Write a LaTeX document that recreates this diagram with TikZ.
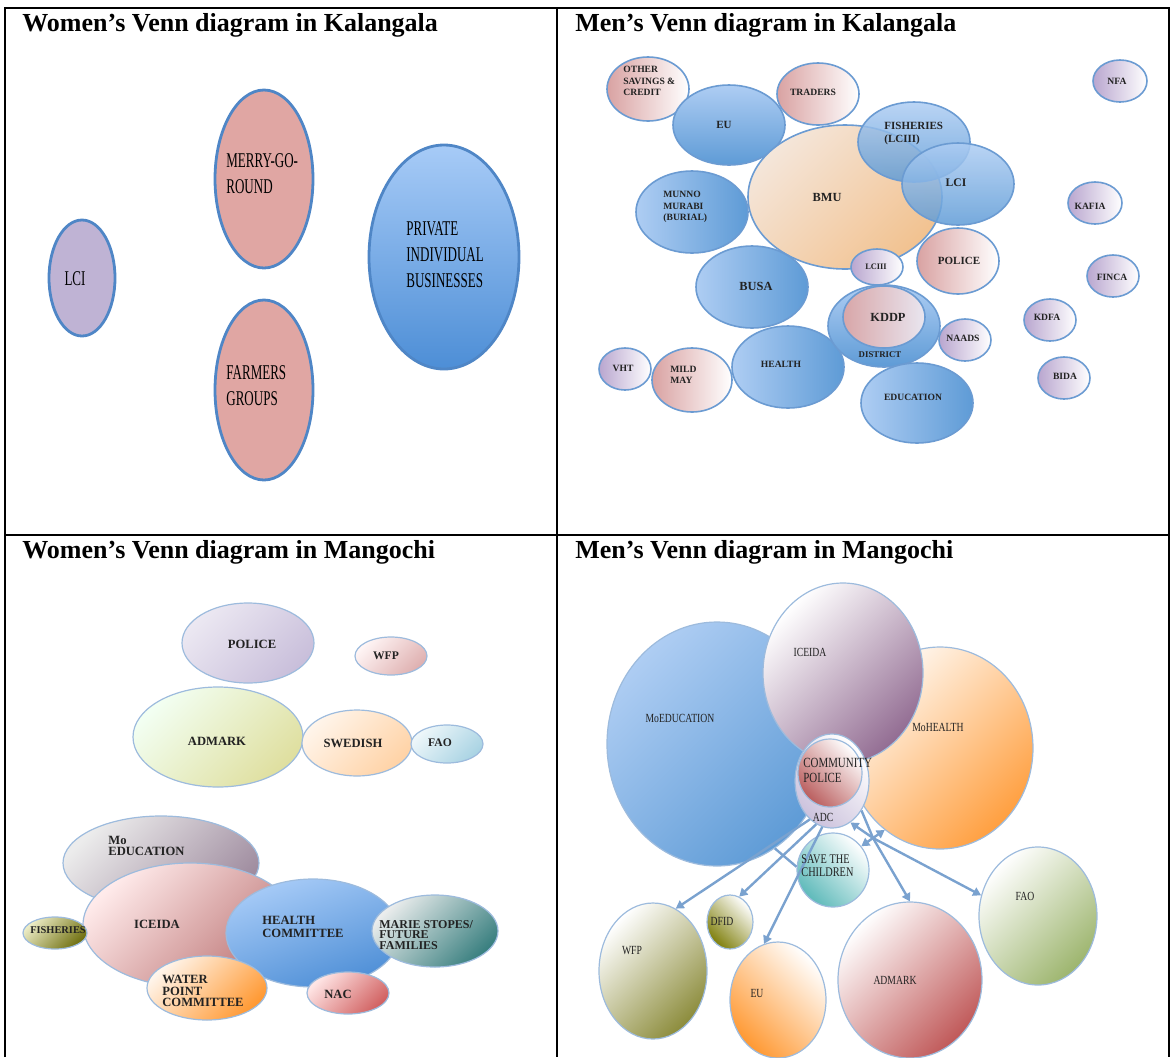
\documentclass[tikz,border=0pt]{standalone}
\usepackage{fontspec}
\setmainfont{Liberation Serif}
\newfontfamily\narrowfont{Liberation Serif}[FakeStretch=0.62]
\newfontfamily\semifont{Liberation Serif}[FakeStretch=0.78]
\usetikzlibrary{arrows.meta, shapes.geometric}
% colours
\definecolor{klb}{HTML}{4F86C6}
\definecolor{lilac}{HTML}{BFB3D4}
\definecolor{rosy}{HTML}{E0A6A3}
\definecolor{pbtop}{HTML}{A7CBF7}
\definecolor{pbbot}{HTML}{4D8ED6}
\definecolor{kmb}{HTML}{6B9BD2}
\definecolor{pinkl}{HTML}{D9A2A2}
\definecolor{bluel}{HTML}{AECDF3}
\definecolor{blued}{HTML}{5E9BD6}
\definecolor{peachl}{HTML}{F4E6DA}
\definecolor{peachd}{HTML}{F2C290}
\definecolor{purl}{HTML}{B9A6CF}
\definecolor{kddpl}{HTML}{D8A6A8}
\definecolor{kddpr}{HTML}{E9E6F0}
\definecolor{mgb}{HTML}{9DBBDD}
\definecolor{txt}{HTML}{222222}
\definecolor{arrc}{HTML}{7AA2CF}
\definecolor{faol}{HTML}{EEF7FA}
\definecolor{faod}{HTML}{A9D3E3}
\definecolor{mfaod}{HTML}{9DB56E}

\begin{document}
\begin{tikzpicture}[x=0.5pt, y=-0.5pt,
    el/.style 2 args={ellipse, inner sep=0pt, minimum width=#1pt, minimum height=#2pt},
    kl/.style={draw=klb, line width=1.4pt},
    km/.style={draw=kmb, line width=0.8pt},
    mg/.style={draw=mgb, line width=0.6pt},
    dg/.style 2 args={top color=#1, bottom color=#2, shading angle=45},
    up/.style 2 args={top color=#1, bottom color=#2, shading angle=135},
    lr/.style 2 args={left color=#1, right color=#2},
    tb/.style 2 args={top color=#1, bottom color=#2},
    rule/.style={line width=1pt},
    ttl/.style={font=\bfseries\fontsize{13}{15}\selectfont, anchor=west, inner sep=0pt},
    nl/.style={font=\narrowfont\fontsize{10.5}{13}\selectfont, align=left, inner sep=0pt},
    ml/.style={font=\bfseries\fontsize{4.8}{5.8}\selectfont, align=left, inner sep=0pt, text=txt},
    mlb/.style={ml, font=\bfseries\fontsize{6.2}{7}\selectfont},
    wl/.style={font=\bfseries\fontsize{6.3}{5.8}\selectfont, align=left, inner sep=0pt, text=txt},
    sl/.style={font=\semifont\fontsize{6.2}{7.2}\selectfont, align=left, inner sep=0pt, text=txt},
    arr/.style={draw=arrc, line width=1.2pt, -{Triangle[length=4pt,width=4.5pt]}}
    ]
    \useasboundingbox (0,0) rectangle (1175,1057);
    % table rules
    \draw[rule] (5,1057) -- (5,8) -- (1169,8) -- (1169,1057);
    \draw[rule] (557,8) -- (557,1057);
    \draw[rule] (5,535) -- (1169,535);
    \node[ttl] (t1) at (22,25) {Women’s Venn diagram in Kalangala};
    \node[ttl] (t2) at (575,25) {Men’s Venn diagram in Kalangala};
    \node[ttl] (t3) at (22,552) {Women’s Venn diagram in Mangochi};
    \node[ttl] (t4) at (575,552) {Men’s Venn diagram in Mangochi};

    % women, Kalangala
    \node[el={33}{58}, kl, fill=lilac] (wkLCI) at (82,278) {};
    \node[nl] (wkLCIt) at (75,279) {LCI};
    \node[el={49}{89}, kl, fill=rosy] (wkMerry) at (264,179) {};
    \node[nl, anchor=west] (wkMerryt) at (226,174) {MERRY-GO-\\ROUND};
    \node[el={49}{90}, kl, fill=rosy] (wkFarm) at (264,390) {};
    \node[nl, anchor=west] (wkFarmt) at (226,386) {FARMERS\\GROUPS};
    \node[el={75}{112}, kl, tb={pbtop}{pbbot}] (wkPriv) at (444,257) {};
    \node[nl, anchor=west] (wkPrivt) at (406,255) {PRIVATE\\INDIVIDUAL\\BUSINESSES};

    % men, Kalangala
    \node[el={41}{32}, km, lr={pinkl}{white}] (mkOther) at (648,89) {};
    \node[el={41}{31}, km, lr={pinkl}{white}] (mkTrad) at (818,94) {};
    \node[el={56}{40}, km, tb={bluel}{blued}] (mkEU) at (729,125) {};
    \node[el={56}{41}, km, lr={bluel}{blued}] (mkMunno) at (692,212) {};
    \node[el={97}{72}, km, dg={peachl}{peachd}] (mkBMU) at (845,197) {};
    \node[el={56}{41}, km, lr={bluel}{blued}] (mkBusa) at (752,287) {};
    \node[el={56}{40}, km, tb={bluel}{blued}, fill opacity=0.85] (mkFish) at (914,142) {};
    \node[el={56}{41}, km, tb={bluel}{blued}, fill opacity=0.85] (mkLCI) at (958,184) {};
    \node[el={26}{18}, km, lr={purl}{white}] (mkLCIII) at (877,267) {};
    \node[el={41}{33}, km, lr={pinkl}{white}] (mkPol) at (958,261) {};
    \node[el={56}{41}, km, lr={bluel}{blued}] (mkHealth) at (788,367) {};
    \node[el={56}{41}, km, tb={bluel}{blued}] (mkDist) at (884,326) {};
    \node[el={41}{31}, km, lr={kddpl}{kddpr}] (mkKDDP) at (884,317) {};
    \node[el={26}{21}, km, lr={purl}{white}] (mkNaads) at (965,340) {};
    \node[el={56}{40}, km, lr={bluel}{blued}] (mkEdu) at (917,403) {};
    \node[el={26}{21}, km, lr={purl}{white}] (mkVHT) at (625,369) {};
    \node[el={40}{32}, km, lr={pinkl}{white}] (mkMild) at (692,380) {};
    \node[el={27}{21}, km, lr={purl}{white}] (mkNFA) at (1120,81) {};
    \node[el={27}{21}, km, lr={purl}{white}] (mkKafia) at (1095,203) {};
    \node[el={26}{21}, km, lr={purl}{white}] (mkFinca) at (1113,276) {};
    \node[el={26}{21}, km, lr={purl}{white}] (mkKDFA) at (1050,320) {};
    \node[el={26}{21}, km, lr={purl}{white}] (mkBida) at (1064,378) {};
    \node[ml, anchor=west] (mkOthert) at (623,81) {OTHER\\SAVINGS \&\\CREDIT};
    \node[ml] (mkTradt) at (813,92) {TRADERS};
    \node[ml, font=\bfseries\fontsize{5.5}{6.5}\selectfont] (mkEUt) at (724,125) {EU};
    \node[ml, anchor=west] (mkMunnot) at (663,207) {MUNNO\\MURABI\\(BURIAL)};
    \node[mlb] (mkBMUt) at (827,197) {BMU};
    \node[ml, anchor=west, font=\bfseries\fontsize{5.5}{6.5}\selectfont] (mkFisht) at (884,134) {FISHERIES\\(LCIII)};
    \node[ml, font=\bfseries\fontsize{5.8}{7}\selectfont] (mkLCIt) at (956,183) {LCI};
    \node[ml] (mkNFAt) at (1117,81) {NFA};
    \node[ml] (mkKafiat) at (1090,206) {KAFIA};
    \node[ml, font=\bfseries\fontsize{4.2}{5}\selectfont] (mkLCIIIt) at (876,267) {LCIII};
    \node[ml, font=\bfseries\fontsize{5.5}{6.5}\selectfont] (mkPolt) at (959,261) {POLICE};
    \node[ml] (mkFincat) at (1112,277) {FINCA};
    \node[mlb] (mkBusat) at (756,286) {BUSA};
    \node[mlb] (mkKDDPt) at (888,317) {KDDP};
    \node[ml, font=\bfseries\fontsize{4.4}{5}\selectfont] (mkDistt) at (880,355) {DISTRICT};
    \node[ml] (mkNaadst) at (963,338) {NAADS};
    \node[ml] (mkKDFAt) at (1047,317) {KDFA};
    \node[ml] (mkBidat) at (1065,376) {BIDA};
    \node[ml] (mkHealtht) at (781,364) {HEALTH};
    \node[ml] (mkEdut) at (913,397) {EDUCATION};
    \node[ml] (mkVHTt) at (623,368) {VHT};
    \node[ml, anchor=west] (mkMildt) at (670,375) {MILD\\MAY};

    % women, Mangochi
    \node[el={66}{40}, mg, dg={white!70!lilac}{lilac!85!white}] (wmPol) at (248,643) {};
    \node[el={36}{19}, mg, dg={pink!15!white}{pinkl!85!white}] (wmWFP) at (391,656) {};
    \node[el={85}{50}, mg, dg={green!5!white}{olive!25!white}] (wmAdm) at (218,737) {};
    \node[el={55}{33}, mg, dg={orange!8!white}{orange!35!white}] (wmSwe) at (357,743) {};
    \node[el={36}{19}, mg, dg={faol}{faod}] (wmFAO) at (447,744) {};
    \node[el={98}{47}, mg, dg={gray!15!white}{violet!20!gray!75!white}] (wmMoEdu) at (161,863) {};
    \node[el={107}{62}, mg, dg={red!8!white}{red!35!gray!80!white}] (wmIce) at (190,925) {};
    \node[el={32}{16}, mg, dg={olive!15!white}{olive!50!black!75!white}] (wmFish) at (55,933) {};
    \node[el={87}{54}, mg, tb={pbtop}{pbbot}, shading angle=20] (wmHealth) at (313,933) {};
    \node[el={63}{36}, mg, dg={cyan!5!gray!15!white}{teal!55!gray}] (wmMarie) at (435,931) {};
    \node[el={41}{21}, mg, dg={red!10!white}{red!55!gray!80!white}] (wmNAC) at (348,993) {};
    \node[el={60}{32}, mg, dg={orange!8!white}{orange!80!white}] (wmWater) at (207,988) {};
    \node[wl] (wmPolt) at (252,644) {POLICE};
    \node[wl, font=\bfseries\fontsize{5.8}{7}\selectfont] (wmWFPt) at (386,656) {WFP};
    \node[wl] (wmAdmt) at (217,741) {ADMARK};
    \node[wl] (wmSwet) at (353,743) {SWEDISH};
    \node[wl, font=\bfseries\fontsize{5.8}{7}\selectfont] (wmFAOt) at (440,743) {FAO};
    \node[wl, anchor=west] (wmMoEdut) at (108,846) {Mo\\EDUCATION};
    \node[wl] (wmIcet) at (157,924) {ICEIDA};
    \node[wl, font=\bfseries\fontsize{5.2}{6}\selectfont] (wmFisht) at (58,930) {FISHERIES};
    \node[wl, anchor=west, font=\bfseries\fontsize{6.3}{6.6}\selectfont] (wmHealtht) at (262,927) {HEALTH\\COMMITTEE};
    \node[wl, anchor=west, font=\bfseries\fontsize{6}{5.3}\selectfont] (wmMariet) at (379,935) {MARIE STOPES/\\FUTURE\\FAMILIES};
    \node[wl] (wmNACt) at (338,994) {NAC};
    \node[wl, anchor=west] (wmWatert) at (162,991) {WATER\\POINT\\COMMITTEE};

    % men, Mangochi
    \node[el={110}{122}, mg, dg={bluel}{blued}] (mmMoEdu) at (717,744) {};
    \node[el={93}{101}, mg, dg={orange!4!white}{orange!75!white}] (mmMoHea) at (940,748) {};
    \node[el={80}{90}, mg, dg={white}{violet!35!gray!85!white}] (mmIce) at (843,673) {};
    \node[el={37}{47}, mg, up={lilac!80!white}{white}] (mmADC) at (832,781) {};
    \node[el={32}{34}, mg, up={red!40!gray!90!white}{white}] (mmComm) at (830,773) {};
    \node[el={36}{37}, mg, up={cyan!40!gray!90!white}{white}] (mmSave) at (833,870) {};
    \node[el={54}{68}, mg, dg={white}{olive!35!gray!90!white}] (mmWFP) at (653,971) {};
    \node[el={23}{27}, mg, up={olive!45!gray}{white}] (mmDFID) at (730,922) {};
    \node[el={48}{58}, mg, up={orange!80!white}{white}] (mmEU) at (778,1000) {};
    \node[el={72}{78}, mg, dg={white}{red!45!gray!90!white}] (mmAdm) at (910,980) {};
    \node[el={59}{69}, mg, dg={white}{mfaod}] (mmFAO) at (1038,916) {};
    % connectors from ADC
    \coordinate (hub) at (873,838);
    \draw[arr] (mmADC.240) -- (mmWFP.70);
    \draw[arr] (mmADC.250) -- (mmDFID.70);
    \draw[arr] (mmADC.258) -- (mmEU.104);
    \draw[arrc, line width=1.2pt] (mmMoEdu.-61) -- (mmSave.175);
    \draw[arrc, line width=1.2pt] (mmADC.-45) -- (hub);
    \draw[arr] (hub) -- (mmFAO.160);
    \draw[arr] (hub) -- (mmAdm.90);
    \draw[arr] (hub) -- (mmMoHea.236);
    \draw[arr] (hub) -- (mmSave.40);
    \draw[arr] (hub) -- (mmADC.-66);
    \node[sl] (mmMoEdut) at (680,718) {MoEDUCATION};
    \node[sl] (mmIcet) at (810,652) {ICEIDA};
    \node[sl] (mmMoHeat) at (938,727) {MoHEALTH};
    \node[sl, anchor=west, font=\semifont\fontsize{7}{7.5}\selectfont] (mmCommt) at (803,770) {COMMUNITY\\POLICE};
    \node[sl] (mmADCt) at (823,817) {ADC};
    \node[sl, anchor=west, font=\semifont\fontsize{6.6}{6.6}\selectfont] (mmSavet) at (801,866) {SAVE THE\\CHILDREN};
    \node[sl] (mmWFPt) at (632,951) {WFP};
    \node[sl] (mmDFIDt) at (722,921) {DFID};
    \node[sl] (mmEUt) at (757,993) {EU};
    \node[sl] (mmAdmt) at (895,980) {ADMARK};
    \node[sl] (mmFAOt) at (1025,896) {FAO};
\end{tikzpicture}
\end{document}
